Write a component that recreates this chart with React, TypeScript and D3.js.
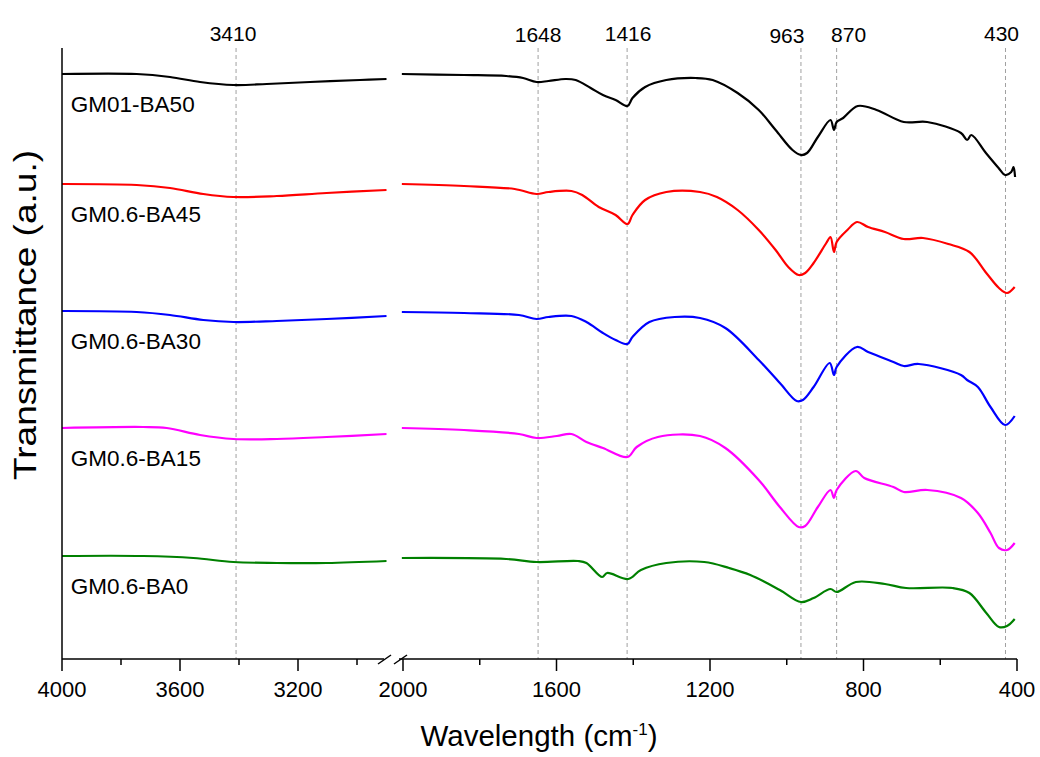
import React from "react";
import * as d3 from "d3";

// ---- Data (wavenumber cm^-1, transmittance a.u. offset-stacked) ----
const leftDomain: [number, number] = [4000, 2900];
const rightDomain: [number, number] = [2000, 400];
const leftMajorTicks = [4000, 3600, 3200];
const leftMinorTicks = [3800, 3400, 3000];
const rightMajorTicks = [2000, 1600, 1200, 800, 400];
const rightMinorTicks = [1800, 1400, 1000, 600];
const peakMarks = [3410, 1648, 1416, 963, 870, 430];

const seriesNames = ["GM01-BA50", "GM0.6-BA45", "GM0.6-BA30", "GM0.6-BA15", "GM0.6-BA0"];
const seriesColors = ["#000000", "#ff0000", "#0000ff", "#ff00ff", "#008000"];

const ba50Left: [number, number][] = [
  [4000, 5.85], [3747, 5.85], [3634, 5.82], [3532, 5.77], [3419, 5.74], [3306, 5.75], [3159, 5.77], [2990, 5.79], [2900, 5.8],
];
const ba50Right: [number, number][] = [
  [2003, 5.85], [1841, 5.84], [1731, 5.83], [1687, 5.81], [1652, 5.77], [1621, 5.78], [1577, 5.8], [1550, 5.79],
  [1511, 5.71], [1479, 5.64], [1446, 5.59], [1415, 5.53], [1402, 5.61], [1369, 5.72], [1314, 5.79], [1237, 5.81],
  [1193, 5.79], [1128, 5.66], [1073, 5.49], [1029, 5.29], [985, 5.09], [963, 5.04], [947, 5.06], [919, 5.22],
  [886, 5.39], [877, 5.29], [870, 5.37], [853, 5.41], [815, 5.53], [766, 5.49], [695, 5.37], [634, 5.37],
  [546, 5.26], [530, 5.19], [519, 5.24], [481, 5.06], [448, 4.91], [431, 4.84], [415, 4.87], [409, 4.92], [405, 4.82],
];
const ba45Left: [number, number][] = [
  [4000, 4.75], [3747, 4.74], [3634, 4.71], [3521, 4.65], [3419, 4.62], [3272, 4.63], [3103, 4.66], [2900, 4.69],
];
const ba45Right: [number, number][] = [
  [2003, 4.75], [1841, 4.73], [1709, 4.7], [1652, 4.65], [1621, 4.67], [1561, 4.68], [1533, 4.64], [1490, 4.52],
  [1446, 4.44], [1415, 4.35], [1402, 4.44], [1369, 4.59], [1314, 4.67], [1226, 4.67], [1182, 4.62], [1128, 4.49],
  [1073, 4.29], [1029, 4.09], [996, 3.92], [969, 3.84], [952, 3.86], [930, 3.96], [897, 4.16], [886, 4.22],
  [877, 4.07], [870, 4.17], [842, 4.29], [817, 4.37], [788, 4.32], [744, 4.27], [695, 4.2], [645, 4.21],
  [579, 4.15], [524, 4.07], [480, 3.86], [447, 3.71], [426, 3.66], [406, 3.72],
];
const ba30Left: [number, number][] = [
  [4000, 3.48], [3747, 3.47], [3634, 3.44], [3521, 3.39], [3419, 3.37], [3272, 3.38], [3103, 3.4], [2900, 3.43],
];
const ba30Right: [number, number][] = [
  [2003, 3.47], [1841, 3.46], [1698, 3.44], [1652, 3.4], [1621, 3.42], [1561, 3.43], [1522, 3.37], [1479, 3.26],
  [1446, 3.19], [1415, 3.15], [1402, 3.22], [1358, 3.37], [1292, 3.42], [1226, 3.41], [1160, 3.31], [1073, 2.99],
  [1018, 2.76], [974, 2.58], [958, 2.59], [930, 2.72], [888, 2.96], [877, 2.84], [870, 2.92], [817, 3.12],
  [788, 3.07], [722, 2.97], [695, 2.93], [656, 2.95], [546, 2.84], [530, 2.79], [502, 2.72], [469, 2.52],
  [431, 2.34], [406, 2.43],
];
const ba15Left: [number, number][] = [
  [4000, 2.31], [3725, 2.32], [3645, 2.31], [3532, 2.24], [3419, 2.2], [3272, 2.2], [3103, 2.22], [2900, 2.25],
];
const ba15Right: [number, number][] = [
  [2003, 2.31], [1841, 2.29], [1698, 2.25], [1652, 2.21], [1599, 2.23], [1561, 2.25], [1522, 2.17], [1479, 2.11],
  [1415, 2.02], [1391, 2.12], [1336, 2.22], [1226, 2.23], [1160, 2.11], [1073, 1.79], [1018, 1.52], [969, 1.32],
  [952, 1.33], [919, 1.52], [886, 1.69], [877, 1.61], [870, 1.69], [820, 1.88], [798, 1.81], [722, 1.72],
  [695, 1.67], [634, 1.69], [546, 1.61], [502, 1.46], [469, 1.26], [447, 1.11], [426, 1.09], [406, 1.16],
];
const ba0Left: [number, number][] = [
  [4000, 1.03], [3725, 1.03], [3555, 1.01], [3419, 0.97], [3272, 0.96], [3103, 0.96], [2900, 0.98],
];
const ba0Right: [number, number][] = [
  [2003, 1.01], [1731, 1.0], [1652, 0.97], [1544, 0.98], [1522, 0.96], [1481, 0.82], [1468, 0.86], [1413, 0.8],
  [1380, 0.89], [1314, 0.96], [1215, 0.97], [1150, 0.91], [1095, 0.84], [1018, 0.69], [963, 0.57], [930, 0.61],
  [886, 0.7], [870, 0.67], [820, 0.77], [744, 0.75], [689, 0.71], [568, 0.71], [524, 0.66], [480, 0.46],
  [447, 0.32], [426, 0.33], [406, 0.4],
];
const leftData = [ba50Left, ba45Left, ba30Left, ba15Left, ba0Left];
const rightData = [ba50Right, ba45Right, ba30Right, ba15Right, ba0Right];

const FONT = "Arial, 'Liberation Sans', sans-serif";
// horizontal nudges for the peak labels (styling only)
const peakLabelDx = [-3, 0, 1, -14, 12, -4];
const peakLabelDy = [0, 1, 0, 2, 1, 0];

export default function App() {
  const W = 1040, H = 757;
  const plotTop = 48, plotBottom = 659;
  const xL = d3.scaleLinear().domain(leftDomain).range([62, 386.5]);
  const xR = d3.scaleLinear().domain(rightDomain).range([403, 1017]);
  const y = d3.scaleLinear().domain([0, 6.11]).range([plotBottom, plotTop]);

  const curve = d3.curveCatmullRom.alpha(0.5);
  const lineL = d3.line<[number, number]>().x(d => xL(d[0])).y(d => y(d[1])).curve(curve);
  const lineR = d3.line<[number, number]>().x(d => xR(d[0])).y(d => y(d[1])).curve(curve);

  const markX = (v: number) => (v > 2500 ? xL(v) : xR(v));

  return (
    <svg width={W} height={H} style={{ position: "absolute", left: 0, top: 0, background: "#fff" }} fontFamily={FONT}>
      {/* peak guide lines */}
      {peakMarks.map((p, i) => (
        <g key={p}>
          <line x1={markX(p)} x2={markX(p)} y1={plotTop} y2={plotBottom} stroke="#a0a0a0" strokeWidth={1} strokeDasharray="4,3" />
          <text x={markX(p) + peakLabelDx[i]} y={41 + peakLabelDy[i]} textAnchor="middle" fontSize={21} fill="#000">{p}</text>
        </g>
      ))}

      {/* series */}
      {seriesNames.map((name, i) => (
        <g key={name}>
          <path d={lineL(leftData[i]) || ""} fill="none" stroke={seriesColors[i]} strokeWidth={2.2} strokeLinejoin="round" />
          <path d={lineR(rightData[i]) || ""} fill="none" stroke={seriesColors[i]} strokeWidth={2.2} strokeLinejoin="round" />
          <text x={xL(3970)} y={y(leftData[i][0][1]) + 38} fontSize={22.5} fill="#000">{name}</text>
        </g>
      ))}

      {/* y axis */}
      <line x1={62} x2={62} y1={plotTop} y2={plotBottom} stroke="#000" strokeWidth={1.5} />

      {/* x axis with break */}
      <line x1={62} x2={384} y1={plotBottom} y2={plotBottom} stroke="#000" strokeWidth={1.5} />
      <line x1={399} x2={1017} y1={plotBottom} y2={plotBottom} stroke="#000" strokeWidth={1.5} />
      <line x1={378} x2={391} y1={664} y2={655} stroke="#000" strokeWidth={1.5} />
      <line x1={394} x2={407} y1={664} y2={655} stroke="#000" strokeWidth={1.5} />

      {leftMajorTicks.map(t => (
        <g key={"lm" + t}>
          <line x1={xL(t)} x2={xL(t)} y1={plotBottom} y2={plotBottom + 12} stroke="#000" strokeWidth={1.5} />
          <text x={xL(t)} y={697} textAnchor="middle" fontSize={22}>{t}</text>
        </g>
      ))}
      {leftMinorTicks.map(t => (
        <line key={"ln" + t} x1={xL(t)} x2={xL(t)} y1={plotBottom} y2={plotBottom + 6} stroke="#000" strokeWidth={1.5} />
      ))}
      {rightMajorTicks.map(t => (
        <g key={"rm" + t}>
          <line x1={xR(t)} x2={xR(t)} y1={plotBottom} y2={plotBottom + 12} stroke="#000" strokeWidth={1.5} />
          <text x={xR(t)} y={697} textAnchor="middle" fontSize={22}>{t}</text>
        </g>
      ))}
      {rightMinorTicks.map(t => (
        <line key={"rn" + t} x1={xR(t)} x2={xR(t)} y1={plotBottom} y2={plotBottom + 6} stroke="#000" strokeWidth={1.5} />
      ))}

      {/* axis titles */}
      <text x={539} y={746} textAnchor="middle" fontSize={29.5}>
        Wavelength (cm<tspan dy={-11} fontSize={17}>-1</tspan><tspan dy={11}>)</tspan>
      </text>
      <text transform="translate(36,315) rotate(-90)" textAnchor="middle" fontSize={32}
        textLength={330} lengthAdjust="spacingAndGlyphs">
        Transmittance (a.u.)
      </text>
    </svg>
  );
}
